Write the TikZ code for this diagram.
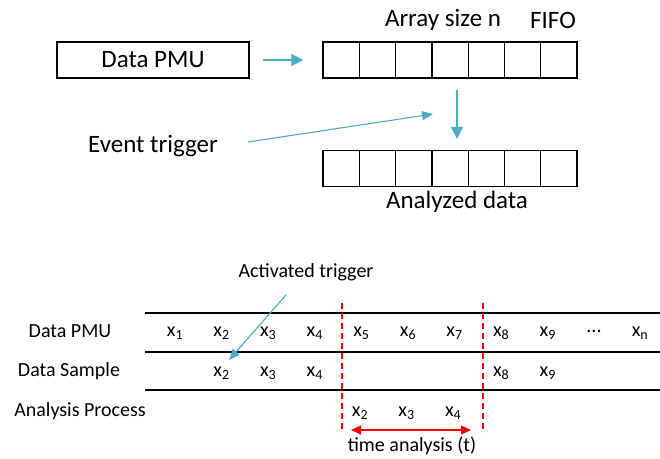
\documentclass[tikz,border=0pt]{standalone}
\usepackage{fontspec}
\setmainfont{Carlito}
\usetikzlibrary{arrows.meta}
\definecolor{trigblue}{HTML}{4BACC6}
\definecolor{alarmred}{HTML}{FF0000}

\begin{document}
\begin{tikzpicture}[x=1pt, y=-1pt,
    box/.style={draw, line width=1.3pt, minimum width=192pt, minimum height=36pt,
                font=\fontsize{25}{30}\selectfont},
    cell/.style={draw, line width=1.3pt, minimum width=36.29pt, minimum height=36pt, inner sep=0pt},
    bigtext/.style={font=\fontsize{25}{30}\selectfont},
    smalltext/.style={font=\fontsize{20}{24}\selectfont},
    arr/.style={-{Triangle[length=12pt,width=12pt]}, line width=1.3pt, color=trigblue},
    slim/.style={-{Triangle[length=11pt,width=9pt]}, line width=1.1pt, color=trigblue},
    cut/.style={line width=1.1pt, color=alarmred, dash pattern=on 6pt off 4pt},
    timespan/.style={{Triangle[length=10pt,width=9pt]}-{Triangle[length=10pt,width=9pt]},
                     line width=1.3pt, color=alarmred}
  ]
    \useasboundingbox (0,0) rectangle (660,458);

    % buffer part
    \node[box] (pmu) at (153,60) {Data PMU};
    \foreach \i in {1,...,7} {
      \node[cell] (fifo\i) at ({323+36.29*(\i-0.5)},60) {};
      \node[cell] (an\i)   at ({323+36.29*(\i-0.5)},168.5) {};
    }
    \node[bigtext] (asize) at (443,20) {Array size n};
    \node[bigtext] (fifo)  at (553,20) {FIFO};
    \node[bigtext] (evt)   at (153,146) {Event trigger};
    \node[bigtext] (anl)   at (457,202) {Analyzed data};
    \coordinate (trigtip) at (433,114);

    \draw[arr, shorten <=13pt, shorten >=19pt] (pmu) -- (fifo1);
    \draw[arr, shorten <=11pt, shorten >=11pt] ([xshift=7pt]fifo4.south) -- ([xshift=7pt]an4.north);
    \draw[slim, shorten <=27pt] (evt.east) -- (trigtip);

    % timeline part
    \foreach \y in {313,352,390}
      \draw[line width=1.3pt] (145,\y) -- (660,\y);
    \node[smalltext] (rowpmu) at (70,331) {Data PMU};
    \node[smalltext] (rowsmp) at (69,371) {Data Sample};
    \node[smalltext] (rowana) at (80,411) {Analysis Process};

    \foreach \i in {1,...,9}
      \node[smalltext] (pmu\i) at ({175+46.6*(\i-1)},333) {x\textsubscript{\i}};
    \node[smalltext] (pmudots) at (594,331) {...};
    \node[smalltext] (pmun)    at (640,333) {x\textsubscript{n}};

    \foreach \i in {2,3,4,8,9}
      \node[smalltext] (smp\i) at ({175+46.6*(\i-1)},373) {x\textsubscript{\i}};
    \foreach \i [count=\c] in {2,3,4}
      \node[smalltext] (ana\i) at ({360+46.6*(\c-1)},413) {x\textsubscript{\i}};

    \draw[cut] (342,303) -- (342,433);
    \draw[cut] (483,303) -- (483,433);
    \draw[timespan] (351,430) -- (471,430);
    \node[smalltext, inner sep=0pt] (tana) at (412,446) {time analysis (t)};

    \node[smalltext] (act) at (306,272) {Activated trigger};
    \coordinate (acttip) at (229,360);
    \draw[slim, shorten <=30pt] (act.center) -- (acttip);
  \end{tikzpicture}
\end{document}
